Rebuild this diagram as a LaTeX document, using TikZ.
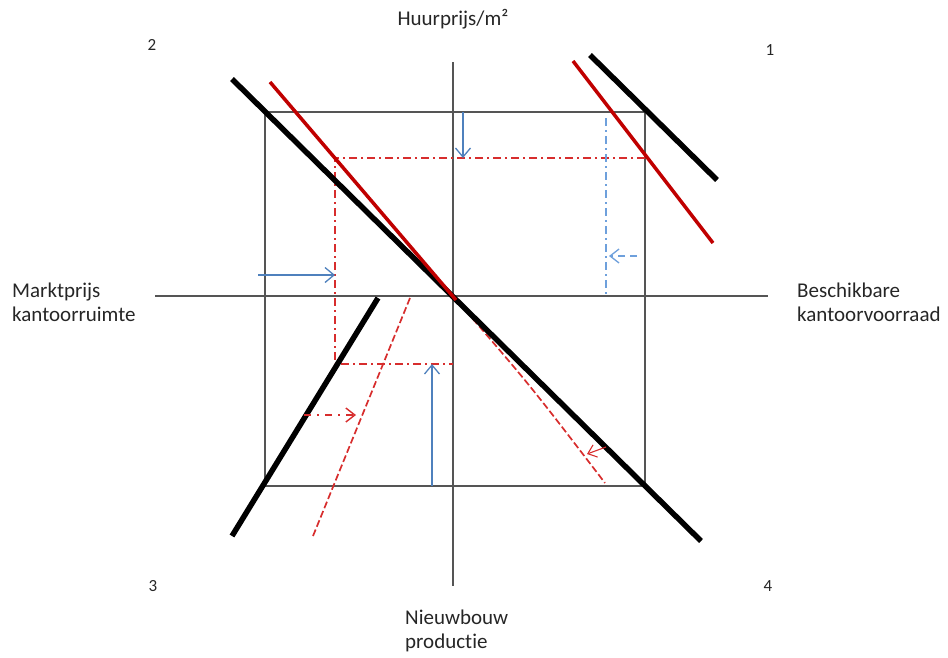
\documentclass[tikz,border=0pt]{standalone}
\usepackage{fontspec}
\setmainfont[Ligatures=NoCommon]{Carlito}
\usetikzlibrary{arrows.meta}
\definecolor{dred}{RGB}{192,0,0}
\definecolor{lred}{RGB}{215,45,45}
\definecolor{blu}{RGB}{79,129,189}
\definecolor{lblu}{RGB}{110,160,220}
\definecolor{axg}{RGB}{85,85,85}
\tikzset{
  axis/.style={draw=axg, line width=2pt},
  boxl/.style={draw=axg, line width=1.5pt},
  thick black/.style={draw=black, line width=5.5pt},
  redsolid/.style={draw=dred, line width=3.5pt},
  reddd/.style={draw=lred, line width=1.8pt, dash pattern=on 8pt off 4pt on 2pt off 4pt},
  reddash/.style={draw=lred, line width=1.7pt, dash pattern=on 7pt off 3pt},
  bluedd/.style={draw=lblu, line width=1.8pt, dash pattern=on 8pt off 4pt on 2pt off 4pt},
  bluearr/.style={draw=blu, line width=1.3pt, -{Straight Barb[length=9pt,width=15pt]}},
  lbl/.style={font=\fontsize{21}{24}\selectfont, text=black!85, align=left, inner sep=0pt},
  num/.style={font=\fontsize{17}{20}\selectfont, text=black!85, inner sep=0pt}
}
\begin{document}
\begin{tikzpicture}[x=1pt,y=-1pt]
\useasboundingbox (0,0) rectangle (948,657);
% coordinates
\coordinate (O) at (453,296);
\coordinate (B1) at (265,112); \coordinate (B2) at (645,112);
\coordinate (B3) at (645,486); \coordinate (B4) at (265,486);
% box
\draw[boxl] (B1) -- (B2) -- (B3) -- (B4) -- cycle;
% axes
\coordinate (vt) at (453,62); \coordinate (vb) at (453,586);
\coordinate (hl) at (155,296); \coordinate (hr) at (768,296);
\draw[axis] (vt) -- (vb);
\draw[axis] (hl) -- (hr);
% red dash-dot rectangle
\coordinate (r1) at (645,158); \coordinate (r2) at (335,158);
\coordinate (r3) at (335,364); \coordinate (r4) at (453,364);
\draw[reddd] (r1) -- (r2) -- (r3) -- (r4);
% blue dash-dot vertical
\coordinate (bv1) at (606,118); \coordinate (bv2) at (606,296);
\draw[bluedd] (bv1) -- (bv2);
% red dashed lines
\coordinate (d3a) at (410,298); \coordinate (d3b) at (313,536);
\draw[reddash] (d3a) -- (d3b);
\coordinate (d4b) at (605,483);
\draw[reddash] (O) .. controls (530,385) .. (d4b);
% thick black lines
\coordinate (k2a) at (232,79); \coordinate (k2b) at (701,541);
\draw[thick black] (k2a) -- (k2b);
\coordinate (k1a) at (590,55); \coordinate (k1b) at (717,180);
\draw[thick black] (k1a) -- (k1b);
\coordinate (k3a) at (378,298); \coordinate (k3b) at (232,536);
\draw[thick black] (k3a) -- (k3b);
% red solid lines
\coordinate (s2a) at (270,82); \coordinate (s2b) at (456,300);
\draw[redsolid] (s2a) -- (s2b);
\coordinate (s1a) at (573,61); \coordinate (s1b) at (713,243);
\draw[redsolid] (s1a) -- (s1b);
% blue arrows
\coordinate (a1s) at (463,112); \coordinate (a1e) at (463,158);
\draw[bluearr] (a1s) -- (a1e);
\coordinate (a2s) at (258,275); \coordinate (a2e) at (335,275);
\draw[bluearr] (a2s) -- (a2e);
\coordinate (a3s) at (432,486); \coordinate (a3e) at (432,364);
\draw[bluearr] (a3s) -- (a3e);
\coordinate (a4s) at (637,256); \coordinate (a4e) at (609,256);
\draw[draw=lblu, line width=1.3pt, dash pattern=on 7pt off 5pt, -{Straight Barb[length=9pt,width=14pt]}] (a4s) -- (a4e);
% red dotted arrows
\coordinate (a5s) at (304,415); \coordinate (a5e) at (356,415);
\draw[draw=lred, line width=1.4pt, dash pattern=on 7pt off 6pt on 2pt off 6pt, -{Straight Barb[length=9pt,width=14pt]}] (a5s) -- (a5e);
\coordinate (a6s) at (606,447); \coordinate (a6e) at (587,454);
\draw[draw=lred, line width=1.1pt, -{Straight Barb[length=8pt,width=13pt]}] (a6s) -- (a6e);
% labels
\node[lbl, anchor=center] (ty) at (453,19) {Huurprijs/m²};
\node[lbl, anchor=north west] (lx) at (12,283) {Marktprijs\\kantoorruimte};
\node[lbl, anchor=north west] (rx) at (797,283) {Beschikbare\\kantoorvoorraad};
\node[lbl, anchor=north west] (bx) at (405,610) {Nieuwbouw\\productie};
\node[num] (n2) at (152,45) {2};
\node[num] (n1) at (770,50) {1};
\node[num] (n3) at (153,586) {3};
\node[num] (n4) at (768,586) {4};
\end{tikzpicture}
\end{document}
